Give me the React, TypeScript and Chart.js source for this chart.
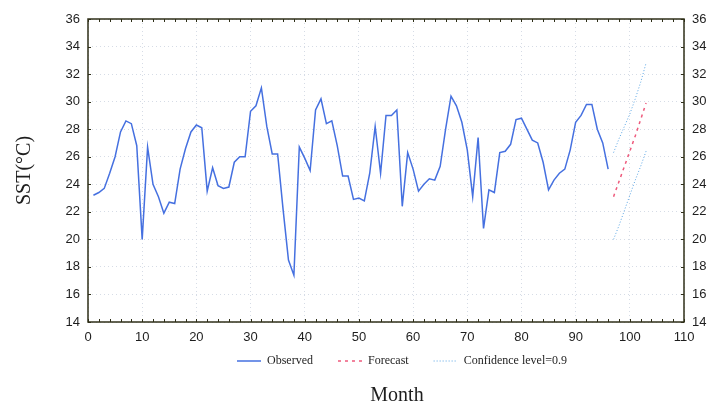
import React, { useEffect, useRef } from "react";
import { Chart, registerables } from "chart.js";

Chart.register(...registerables);

// ---- data ----
const observedMonths = [
  1, 2, 3, 4, 5, 6, 7, 8, 9, 10, 11, 12, 13, 14, 15, 16, 17, 18, 19, 20,
  21, 22, 23, 24, 25, 26, 27, 28, 29, 30, 31, 32, 33, 34, 35, 36, 37, 38, 39, 40,
  41, 42, 43, 44, 45, 46, 47, 48, 49, 50, 51, 52, 53, 54, 55, 56, 57, 58, 59, 60,
  61, 62, 63, 64, 65, 66, 67, 68, 69, 70, 71, 72, 73, 74, 75, 76, 77, 78, 79, 80,
  81, 82, 83, 84, 85, 86, 87, 88, 89, 90, 91, 92, 93, 94, 95, 96,
];
const observedSST = [
  23.2, 23.4, 23.7, 24.8, 26.0, 27.8, 28.6, 28.4, 26.8, 20.0,
  26.7, 24.0, 23.1, 21.9, 22.7, 22.6, 25.1, 26.6, 27.8, 28.3,
  28.1, 23.5, 25.2, 23.9, 23.7, 23.8, 25.6, 26.0, 26.0, 29.3,
  29.7, 31.0, 28.2, 26.2, 26.2, 22.2, 18.5, 17.4, 26.7, 25.9,
  25.0, 29.4, 30.2, 28.4, 28.6, 26.8, 24.6, 24.6, 22.9, 23.0,
  22.8, 24.8, 28.2, 24.8, 29.0, 29.0, 29.4, 22.4, 26.3, 25.1,
  23.5, 24.0, 24.4, 24.3, 25.3, 28.0, 30.4, 29.7, 28.5, 26.5,
  23.1, 27.4, 20.8, 23.6, 23.4, 26.3, 26.4, 26.9, 28.7, 28.8,
  28.0, 27.2, 27.0, 25.6, 23.6, 24.3, 24.8, 25.1, 26.5, 28.5,
  29.0, 29.8, 29.8, 28.0, 27.0, 25.1,
];
const forecastMonths = [97, 98, 99, 100, 101, 102, 103];
const forecastSST = [23.1, 24.2, 25.3, 26.4, 27.5, 28.7, 29.9];
const upperConfidence = [26.3, 27.3, 28.2, 29.1, 30.2, 31.4, 32.8];
const lowerConfidence = [20.0, 21.0, 22.1, 23.2, 24.3, 25.3, 26.4];

const seriesLabels = ["Observed", "Forecast", "Confidence level=0.9"];
const xTitle = "Month";
const yTitle = "SST(\u00b0C)";

// ---- styles ----
const AXIS_COLOR = "#2f2f18";
const TEXT_COLOR = "#1e1e1e";
const GRID_COLOR = "#d6dce6";
const OBS_COLOR = "#4570e0";
const FC_COLOR = "#ee5a7c";
const CONF_COLOR = "#58a4e4";
const SERIF = "'Liberation Serif', 'Times New Roman', serif";
const SANS = "'Liberation Sans', Arial, sans-serif";

const toPoints = (xs: number[], ys: number[]) => xs.map((x, i) => ({ x, y: ys[i] }));

const layoutPlugin = {
  id: "layoutTweaks",
  afterLayout(chart: any) {
    const lg = chart.legend;
    if (lg && lg.lineWidths) {
      const pad = 25;
      const start = (lg.left + pad + lg.right - lg.lineWidths[0]) / 2;
      const dx = 237 - start;
      lg.left += dx;
      lg.right += dx;
      lg.top = 330;
      lg.bottom = 378;
      lg.height = 48;
    }
    const tb = chart.titleBlock;
    if (tb) {
      const dx = 397 - (tb.left + tb.right) / 2;
      const dy = 386 - tb.top;
      tb.left += dx;
      tb.right += dx;
      tb.top += dy;
      tb.bottom += dy;
    }
  },
  afterDraw(chart: any) {
    const { ctx, chartArea } = chart;
    const { left, right, top, bottom } = chartArea;
    const xs = chart.scales.x;
    const ys = chart.scales.y;
    ctx.save();
    ctx.strokeStyle = AXIS_COLOR;
    ctx.lineWidth = 1;
    ctx.beginPath();
    for (let v = 0; v <= 110; v += 2) {
      const px = Math.round(xs.getPixelForValue(v)) + 0.5;
      ctx.moveTo(px, bottom);
      ctx.lineTo(px, bottom - 3);
      ctx.moveTo(px, top);
      ctx.lineTo(px, top + 3);
    }
    for (let v = 14; v <= 36; v += 2) {
      const py = Math.round(ys.getPixelForValue(v)) + 0.5;
      ctx.moveTo(left, py);
      ctx.lineTo(left + 3, py);
      ctx.moveTo(right, py);
      ctx.lineTo(right - 3, py);
    }
    ctx.stroke();
    ctx.lineWidth = 1.5;
    ctx.strokeRect(left, top, right - left, bottom - top);
    ctx.restore();
  },
};

export default function App() {
  const canvasRef = useRef<HTMLCanvasElement | null>(null);

  useEffect(() => {
    if (!canvasRef.current) return;
    const chart = new Chart(canvasRef.current, {
      type: "line",
      data: {
        datasets: [
          {
            label: seriesLabels[0],
            data: toPoints(observedMonths, observedSST),
            borderColor: OBS_COLOR,
            backgroundColor: OBS_COLOR,
            borderWidth: 1.5,
            pointRadius: 0,
            tension: 0,
          },
          {
            label: seriesLabels[1],
            data: toPoints(forecastMonths, forecastSST),
            borderColor: FC_COLOR,
            backgroundColor: FC_COLOR,
            borderWidth: 1.5,
            borderDash: [3, 4],
            pointRadius: 0,
            tension: 0,
          },
          {
            label: seriesLabels[2],
            data: toPoints(forecastMonths, upperConfidence),
            borderColor: CONF_COLOR,
            backgroundColor: CONF_COLOR,
            borderWidth: 1,
            borderDash: [1, 2],
            pointRadius: 0,
            tension: 0,
          },
          {
            label: seriesLabels[2] + " (lower)",
            data: toPoints(forecastMonths, lowerConfidence),
            borderColor: CONF_COLOR,
            backgroundColor: CONF_COLOR,
            borderWidth: 1,
            borderDash: [1, 2],
            pointRadius: 0,
            tension: 0,
          },
        ],
      },
      options: {
        animation: false,
        responsive: true,
        maintainAspectRatio: false,
        layout: { padding: { top: 19, left: 0, right: 0, bottom: 0 } },
        plugins: {
          tooltip: { enabled: false },
          legend: {
            position: "bottom",
            maxHeight: 30,
            labels: {
              usePointStyle: true,
              pointStyle: "line",
              pointStyleWidth: 24,
              padding: 25,
              color: TEXT_COLOR,
              font: { family: SERIF, size: 12 },
              filter: (item: any) => item.datasetIndex !== 3,
              generateLabels: (chart: any) => {
                const base = (Chart as any).defaults.plugins.legend.labels.generateLabels(chart);
                return base.map((item: any) => {
                  const ds = chart.data.datasets[item.datasetIndex];
                  return {
                    ...item,
                    lineDash: ds.borderDash || [],
                    strokeStyle: ds.borderColor,
                    lineWidth: ds.borderWidth,
                    pointStyle: "line",
                  };
                });
              },
            },
          },
          title: {
            display: true,
            position: "bottom",
            text: xTitle,
            color: TEXT_COLOR,
            font: { family: SERIF, size: 20, weight: "normal", lineHeight: 1 },
            padding: 0,
          },
        },
        scales: {
          x: {
            type: "linear",
            min: 0,
            max: 110,
            ticks: {
              stepSize: 10,
              padding: 8,
              color: TEXT_COLOR,
              font: { family: SANS, size: 13 },
            },
            grid: {
              color: GRID_COLOR,
              drawTicks: false,
              lineWidth: 1,
            },
            border: { display: false, dash: [1, 3] } as any,
            afterFit: (s: any) => {
              s.height = 33;
            },
          },
          y: {
            position: "left",
            min: 14,
            max: 36,
            ticks: {
              stepSize: 2,
              padding: 8,
              color: TEXT_COLOR,
              font: { family: SANS, size: 13 },
            },
            grid: {
              color: GRID_COLOR,
              drawTicks: false,
              lineWidth: 1,
            },
            border: { display: false, dash: [1, 3] } as any,
            title: {
              display: true,
              text: yTitle,
              color: TEXT_COLOR,
              font: { family: SERIF, size: 20 },
              padding: { top: 13, bottom: 0 },
            },
            afterFit: (s: any) => {
              s.width = 88;
            },
          },
          y2: {
            position: "right",
            min: 14,
            max: 36,
            ticks: {
              stepSize: 2,
              padding: 8,
              color: TEXT_COLOR,
              font: { family: SANS, size: 13 },
            },
            grid: { display: false, drawTicks: false },
            border: { display: false },
            afterFit: (s: any) => {
              s.width = 29;
            },
          },
        },
      } as any,
      plugins: [layoutPlugin],
    });
    return () => chart.destroy();
  }, []);

  return (
    <div style={{ position: "absolute", left: 0, top: 0, width: 713, height: 405, background: "#fff" }}>
      <canvas ref={canvasRef} />
    </div>
  );
}
